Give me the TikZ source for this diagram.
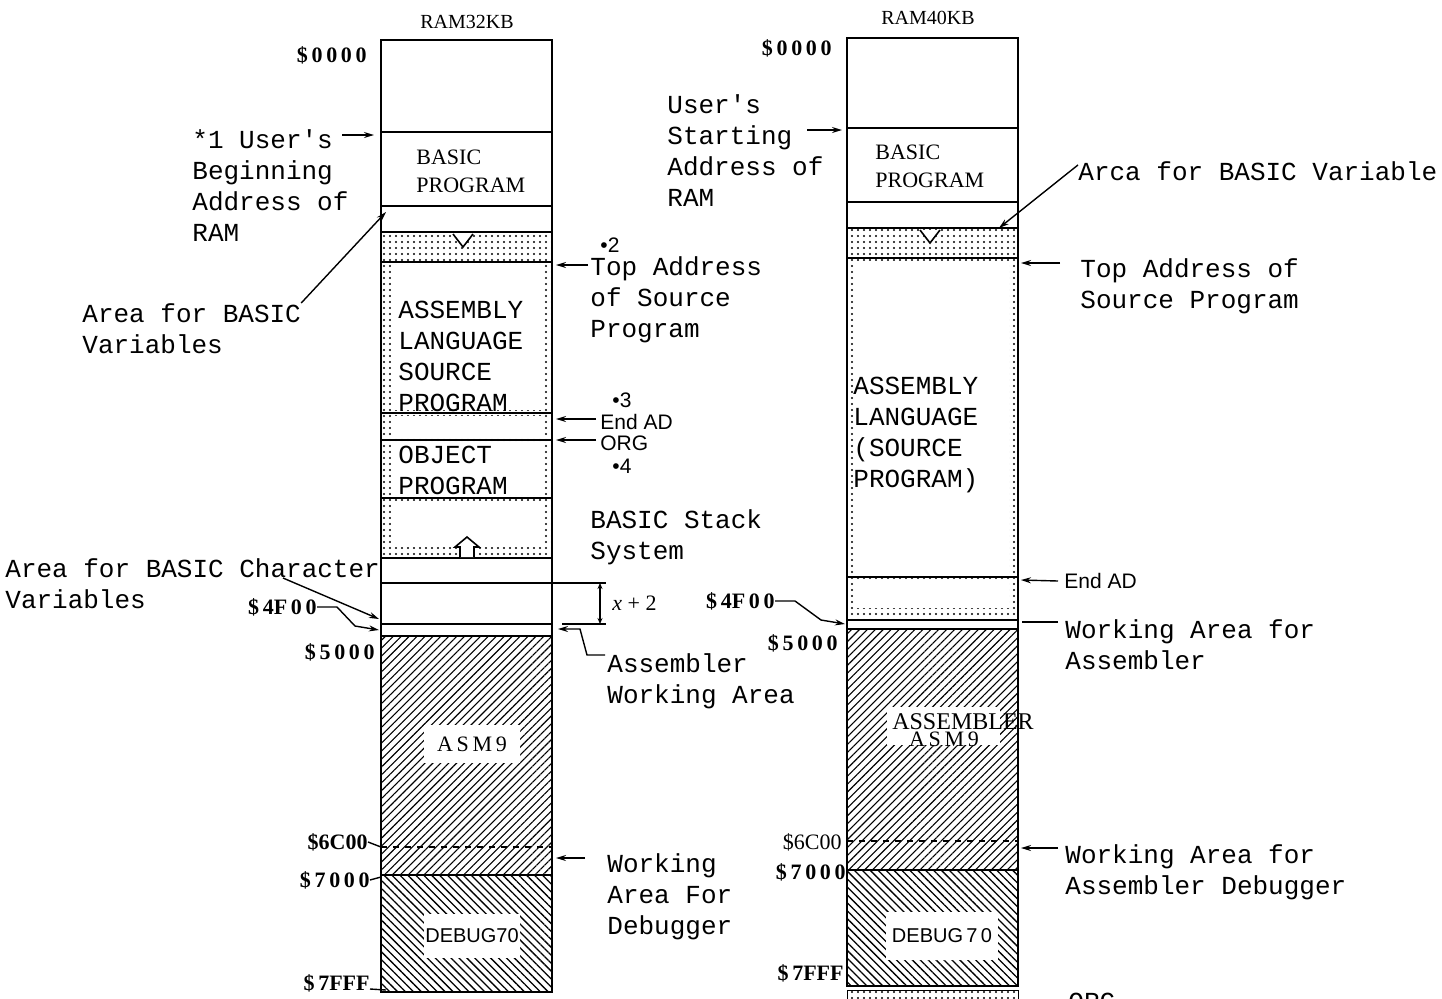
\documentclass[tikz,border=0pt]{standalone}
\usepackage{fontspec}
\setmainfont{Liberation Serif}
\setsansfont{Liberation Sans}
\setmonofont{Liberation Mono}
\usetikzlibrary{arrows.meta, patterns.meta, positioning}

\begin{document}
\begin{tikzpicture}[
    x=0.5pt, y=-0.5pt,
    note/.style={font=\fontsize{13}{15.5}\selectfont\ttfamily, align=left, inner sep=0pt, anchor=north west},
    basic/.style={font=\fontsize{11}{14}\selectfont, align=left, inner sep=0pt, anchor=north west},
    addr/.style={font=\fontsize{11}{13}\selectfont\bfseries, inner sep=0pt, anchor=east},
    smalltag/.style={font=\fontsize{10.5}{12}\selectfont\sffamily, inner sep=0pt, anchor=west},
    ramtitle/.style={font=\fontsize{10}{12}\selectfont, inner sep=0pt},
    blockname/.style={fill=white, inner sep=0pt, minimum width=48pt, minimum height=19pt},
    wall/.style={line width=1.1pt},
    dotfill/.style={pattern={Dots[distance=3pt, radius=0.6pt]}},
    asmfill/.style={pattern={Lines[angle=45, distance=2.8pt, line width=0.55pt]}},
    dbgfill/.style={pattern={Lines[angle=-45, distance=2.8pt, line width=0.65pt]}},
    arrow/.style={-{Stealth[length=5pt, width=3pt]}, line width=0.7pt},
    lead/.style={line width=0.7pt}
]
\useasboundingbox (0,0) rectangle (1442,998);

% RAM32KB column
\node[ramtitle] (t32) at (467,22) {RAM32KB};
\draw[dotfill] (381,232) rectangle (552,558);
\foreach \a/\b in {265/410, 416/437, 443/495, 501/547}
  \fill[white] (391,\a) rectangle (542,\b);
\fill[asmfill] (381,636) rectangle (552,875);
\fill[dbgfill] (381,875) rectangle (552,992);
\draw[wall] (381,40) rectangle (552,992);
\foreach \y in {132,206,232,262,413,440,498,558,583,624,636,875}
  \draw[wall] (381,\y) -- (552,\y);
\draw[wall, dashed] (381,847) -- (552,847);
% heap / stack markers
\filldraw[fill=white, line width=0.8pt] (453,234) -- (463,247) -- (473,234);
\filldraw[fill=white, line width=0.8pt] (460,557) -- (460,547) -- (455,547) -- (467,537) -- (479,547) -- (474,547) -- (474,557);

\node[basic] (bas32) at (416,150) {BASIC\\PROGRAM};
\node[note] (src32) at (398,301) {ASSEMBLY\\LANGUAGE\\SOURCE\\PROGRAM};
\node[note] (obj32) at (398,446) {OBJECT\\PROGRAM};
\node[blockname, font=\fontsize{11}{13}\selectfont] (asm32) at (472,744) {A\,S\,M\,9};
\node[blockname, minimum height=22pt, font=\fontsize{10}{12}\selectfont\sffamily] (dbg32) at (472,936) {DEBUG70};

% addresses, left
\node[addr] (a0000) at (367,55) {\$\,0\,0\,0\,0};
\node[addr] (a4f00) at (317,607) {\$\,4F\,0\,0};
\node[addr] (a5000) at (375,652) {\$\,5\,0\,0\,0};
\node[addr] (a6c00) at (368,842) {\$6C00};
\node[addr] (a7000) at (370,880) {\$\,7\,0\,0\,0};
\node[addr] (a7fff) at (370,983) {\$\,7FFF};

% notes, left column
\node[note] (u32) at (192,129) {*1 User's\\Beginning\\Address of\\RAM};
\node[note] (av32) at (82,303) {Area for BASIC\\Variables};
\node[note] (acv) at (5,558) {Area for BASIC Character\\Variables};
\node[smalltag] (n2) at (600,245) {•2};
\node[note] (top32) at (590,256) {Top Address\\of Source\\Program};
\node[smalltag] (n3) at (612,400) {•3};
\node[smalltag] (endad32) at (600,422) {End AD};
\node[smalltag] (org32) at (600,443) {ORG};
\node[smalltag] (n4) at (612,466) {•4};
\node[note] (stack) at (590,509) {BASIC Stack\\System};
\node[smalltag, font=\fontsize{11}{13}\selectfont] (xplus) at (612,603) {{\itshape x} + 2};
\node[note] (awa) at (607,653) {Assembler\\Working Area};
\node[note] (wad) at (607,853) {Working\\Area For\\Debugger};

% points on the RAM32KB column
\coordinate (p1a) at (374,135);
\coordinate (p1b) at (386,212);
\coordinate (p1c) at (379,619);
\coordinate (p1d) at (379,630);
\coordinate (p1e) at (381,847);
\coordinate (p1f) at (381,877);
\coordinate (p1g) at (386,990);
\coordinate (p1h) at (556,265);
\coordinate (p1i) at (556,419);
\coordinate (p1j) at (556,440);
\coordinate (p1k) at (558,629);
\coordinate (p1l) at (556,858);
\coordinate (xtop) at (600,583);
\coordinate (xbot) at (600,624);

\draw[arrow] ([xshift=75pt, yshift=-3pt]u32.north west) -- (p1a);
\draw[arrow] (av32.north east) -- (p1b);
\draw[arrow] ([xshift=139pt, yshift=-10pt]acv.north west) -- (p1c);
\draw[arrow] (a4f00.east) -- ++(20,0) -- ++(18,19) -- (p1d);
\draw[lead] (a6c00.east) -- (p1e);
\draw[lead] (a7000.east) -- (p1f);
\draw[lead] ([yshift=-3pt]a7fff.east) -- (p1g);
\draw[arrow] ([xshift=-1pt, yshift=-4.5pt]top32.north west) -- (p1h);
\draw[arrow] ([xshift=-2pt, yshift=1.5pt]endad32.west) -- (p1i);
\draw[arrow] ([xshift=-2pt, yshift=1.5pt]org32.west) -- (p1j);
\draw[arrow] ([xshift=-1pt, yshift=-1pt]awa.north west) -- ++(-18,0) -- ++(-7,-26) -- (p1k);
\draw[arrow] ([xshift=-11pt, yshift=-2.5pt]wad.north west) -- (p1l);
\draw[lead] (552,583) -- (606,583);
\draw[lead] (562,624) -- (606,624);
\draw[{Stealth[length=3pt, width=2.5pt]}-{Stealth[length=3pt, width=2.5pt]}, lead] (xtop) -- (xbot);

% RAM40KB column
\node[ramtitle] (t40) at (928,18) {RAM40KB};
\draw[dotfill] (847,228) rectangle (1018,620);
\foreach \a/\b in {261/574, 581/608}
  \fill[white] (856,\a) rectangle (1009,\b);
\fill[asmfill] (847,629) rectangle (1018,870);
\fill[dbgfill] (847,870) rectangle (1018,986);
\draw[dotfill] (847,990) rectangle (1018,1012);
\draw[wall] (847,38) rectangle (1018,986);
\foreach \y in {128,202,228,258,577,620,629,870}
  \draw[wall] (847,\y) -- (1018,\y);
\draw[wall, dashed] (847,841) -- (1018,841);
\filldraw[fill=white, line width=0.8pt] (920,230) -- (930,243) -- (940,230);

\node[basic] (bas40) at (875,145) {BASIC\\PROGRAM};
\node[note] (src40) at (853,377) {ASSEMBLY\\LANGUAGE\\(SOURCE\\PROGRAM)};
\fill[white] (887,707) rectangle (1000,745);
\node[inner sep=0pt, font=\fontsize{12}{14}\selectfont] (asmr) at (963,722) {ASSEMBLER};
\node[inner sep=0pt, font=\fontsize{11}{13}\selectfont] (asm40) at (944,739) {A\,S\,M\,9};
\node[blockname, minimum width=56pt, minimum height=24pt, font=\fontsize{10}{12}\selectfont\sffamily] (dbg40) at (942,936) {DEBUG\,7\,0};

% addresses, right
\node[addr] (b0000) at (832,48) {\$\,0\,0\,0\,0};
\node[addr] (b4f00) at (775,601) {\$\,4F\,0\,0};
\node[addr] (b5000) at (838,643) {\$\,5\,0\,0\,0};
\node[addr, font=\fontsize{11}{13}\selectfont] (b6c00) at (842,842) {\$6C00};
\node[addr] (b7000) at (846,872) {\$\,7\,0\,0\,0};
\node[addr] (b7fff) at (844,973) {\$\,7FFF};

% notes, right column
\node[note] (u40) at (667,94) {User's\\Starting\\Address of\\RAM};
\node[note] (av40) at (1078,161) {Arca for BASIC Variable};
\node[note] (top40) at (1080,258) {Top Address of\\Source Program};
\node[smalltag] (endad40) at (1064,581) {End AD};
\node[note] (wa40) at (1065,619) {Working Area for\\Assembler};
\node[note] (wad40) at (1065,844) {Working Area for\\Assembler Debugger};
\node[note] (org40) at (1068,993) {ORG};

% points on the RAM40KB column
\coordinate (p2a) at (842,130);
\coordinate (p2b) at (999,228);
\coordinate (p2c) at (1021,263);
\coordinate (p2d) at (1021,580);
\coordinate (p2e) at (1022,622);
\coordinate (p2f) at (845,624);
\coordinate (p2h) at (1021,848);

\draw[arrow] ([xshift=70pt, yshift=-18pt]u40.north west) -- (p2a);
\draw[arrow] ([yshift=3pt]av40.west) -- (p2b);
\draw[arrow] ([xshift=-10pt, yshift=-2.5pt]top40.north west) -- (p2c);
\draw[arrow] ([xshift=-3pt]endad40.west) -- (p2d);
\draw[lead] ([xshift=-3.5pt, yshift=-1.5pt]wa40.north west) -- (p2e);
\draw[arrow] (b4f00.east) -- ++(20,0) -- ++(26,19) -- (p2f);
\draw[arrow] ([xshift=-3.5pt, yshift=-2pt]wad40.north west) -- (p2h);

\end{tikzpicture}
\end{document}
